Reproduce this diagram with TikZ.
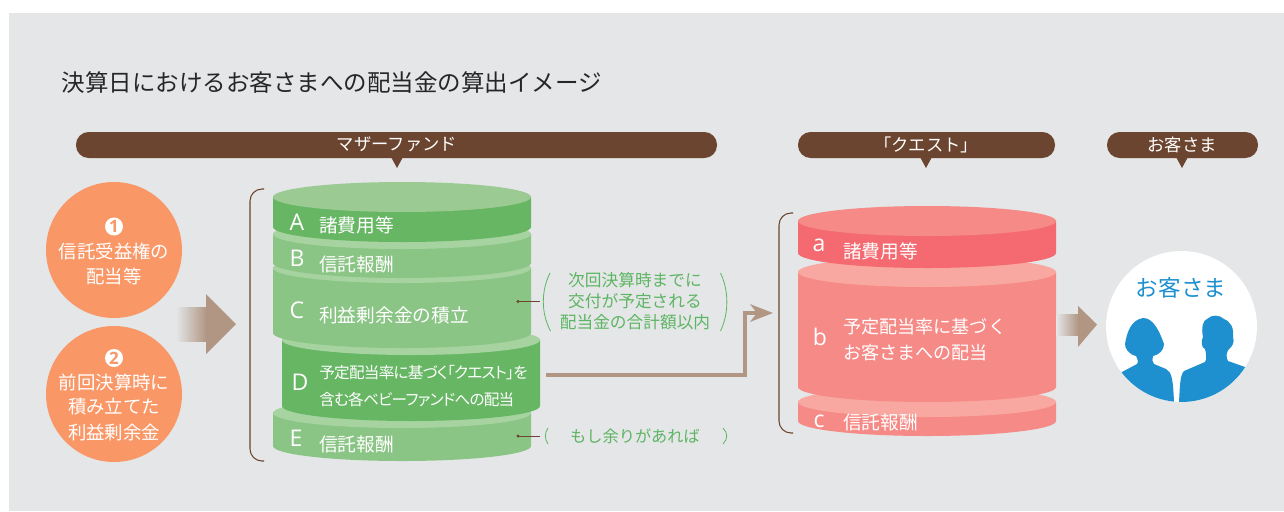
\documentclass[tikz,border=0pt]{standalone}
\usepackage{fontspec}
\setmainfont{Open Sans}
\newfontfamily\jp{Noto Sans CJK JP}
\newfontfamily\jpp[RawFeature=+palt,LetterSpace=-4.7]{Noto Sans CJK JP}
\usetikzlibrary{arrows.meta}
\definecolor{bg}{HTML}{E4E6E8}
\definecolor{barbrown}{HTML}{6B452F}
\definecolor{arrowbrown}{HTML}{B09683}
\definecolor{gdark}{HTML}{66B664}
\definecolor{gmid}{HTML}{8AC585}
\definecolor{glight}{HTML}{A6D3A0}
\definecolor{gtop}{HTML}{9BCB92}
\definecolor{gtext}{HTML}{5DB562}
\definecolor{rdark}{HTML}{F46A70}
\definecolor{rmid}{HTML}{F58A86}
\definecolor{rlight}{HTML}{F8A8A0}
\definecolor{orangec}{HTML}{F99767}
\definecolor{bluep}{HTML}{1E90D0}
\newcommand{\fs}[1]{\fontsize{\dimexpr#1pt*3/4\relax}{\dimexpr#1pt*9/10\relax}\selectfont}
% x0 x1 top-centre bottom-centre body-colour top-colour
\newcommand{\cyl}[6]{%
  \path[fill=#5] (#1,#3) -- (#1,#4) arc[start angle=180,end angle=360,x radius=96.75pt,y radius=11.25pt] -- (#2,#3) -- cycle;
  \path[fill=#6] ({(#1+#2)/2},#3) ellipse[x radius=96.75pt,y radius=11.25pt];
}
\tikzset{
  bar/.style={fill=barbrown,rounded corners=9.5pt},
  jt/.style={inner sep=0pt,anchor=west,text=white,font=\jp\fs{18.7}},
  cj/.style={inner sep=0pt,anchor=center,text=white,align=center,font=\jp\fs{18.4}},
  let/.style={inner sep=0pt,anchor=center,text=white,font=\fs{23}},
  gt/.style={inner sep=0pt,anchor=center,text=gtext,font=\jp\fs{16.7}},
  bart/.style={inner sep=0pt,anchor=center,text=white,font=\jp\fs{17.3}},
  brace/.style={draw=barbrown,line width=0.8pt,rounded corners=9pt},
  lead/.style={draw=barbrown,line width=0.7pt},
  paren/.style={draw=gtext,line width=0.6pt},
  numc/.style={circle,fill=white,minimum size=13.5pt,inner sep=0pt,outer sep=0pt,text=orangec,font=\fs{17}\bfseries},
  flow/.style={draw=arrowbrown,line width=3pt},
}
\begin{document}
\begin{tikzpicture}[x=0.75pt,y=-0.75pt]
\useasboundingbox (0,0) rectangle (1284,511);
\fill[white] (0,0) rectangle (1284,511);
\fill[bg] (9,13) rectangle (1284,511);
% title
\node[inner sep=0pt,anchor=west,font=\jp\fs{23.5},text=black!85] (title) at (61.5,83) {決算日におけるお客さまへの配当金の算出イメージ};
% header bars
\fill[bar] (76,132) rectangle (717,158);
\fill[barbrown] (391,157) -- (403,157) -- (397,168) -- cycle;
\node[bart] (h1) at (397,144.5) {マザーファンド};
\fill[bar] (798,132) rectangle (1055,158);
\fill[barbrown] (920,157) -- (932,157) -- (926,168) -- cycle;
\node[bart] (h2) at (926,144.5) {「クエスト」};
\fill[bar] (1107,132) rectangle (1258,158);
\fill[barbrown] (1176,157) -- (1188,157) -- (1182,168) -- cycle;
\node[bart] (h3) at (1182,144.5) {お客さま};
% source circles
\fill[orangec] (114,250) circle[radius=51pt];
\fill[orangec] (114,394) circle[radius=51pt];
\node[numc] (n1) at (114,226.5) {1};
\node[cj] (c1a) at (114,251) {信託受益権の};
\node[cj] (c1b) at (114,276) {配当等};
\node[numc] (n2) at (114,358) {2};
\node[cj] (c2a) at (114,382) {前回決算時に};
\node[cj] (c2b) at (114,407) {積み立てた};
\node[cj] (c2c) at (114,432) {利益剰余金};
% block arrow 1
\path[left color=bg,right color=arrowbrown] (176,307) rectangle (206.5,341);
\fill[arrowbrown] (206,294) -- (236,324) -- (206,354) -- cycle;
% green stack
\draw[brace] (264,189) -- (250,189) -- (250,461) -- (264,461);
\cyl{273}{531}{413}{446}{gmid}{glight}
\cyl{282}{540}{340}{406}{gdark}{glight}
\cyl{273}{531}{268}{333}{gmid}{glight}
\cyl{273}{531}{234}{263}{gmid}{glight}
\cyl{273}{531}{197}{227}{gdark}{gtop}
\node[let] (lA) at (297,222) {A};
\node[jt] (tA) at (319,225) {諸費用等};
\node[let] (lB) at (297,258) {B};
\node[jt] (tB) at (319,264) {信託報酬};
\node[let] (lC) at (297,310) {C};
\node[jt] (tC) at (319,315) {利益剰余金の積立};
\node[let] (lD) at (300,382) {D};
\node[jt,font=\jpp\fs{15.6}] (tD1) at (319,373) {予定配当率に基づく「クエスト」を};
\node[jt,font=\jpp\fs{15.6}] (tD2) at (319,400) {含む各ベビーファンドへの配当};
\node[let] (lE) at (296,438) {E};
\node[jt] (tE) at (319,444) {信託報酬};
% leaders and notes
\coordinate (ld1) at (518,301.5);
\coordinate (le1) at (540,301.5);
\coordinate (ld2) at (518,436);
\coordinate (le2) at (540,436);
\draw[lead] (ld1) -- (le1);
\fill[barbrown] (ld1) circle[radius=1.3pt];
\draw[lead] (ld2) -- (le2);
\fill[barbrown] (ld2) circle[radius=1.3pt];
\draw[paren] (550,273) .. controls (541,291) and (541,313) .. (550.5,331);
\draw[paren] (720.5,273) .. controls (729,291) and (729,313) .. (720.5,331);
\draw[paren] (548,428) .. controls (544.5,433) and (544.5,439) .. (548,444);
\draw[paren] (723,428) .. controls (728,433) and (728,439) .. (723,444);
\node[gt] (g1) at (635,280) {次回決算時までに};
\node[gt] (g2) at (635,301) {交付が予定される};
\node[gt] (g3) at (635,322) {配当金の合計額以内};
\node[gt,font=\jp\fs{16.2}] (g4) at (635,436) {もし余りがあれば};
% connector from D to the Quest stack
\coordinate (dout) at (546,375);
\coordinate (qin) at (773,313);
\draw[flow,-{Stealth[length=17pt,width=13pt,inset=5pt]}] (dout) -- (745,375) -- (745,313) -- (qin);
% red stack
\draw[brace] (793,213) -- (779,213) -- (779,433) -- (793,433);
\cyl{798}{1056}{402}{421}{rmid}{rlight}
\cyl{798}{1056}{272}{387}{rmid}{rlight}
\cyl{798}{1056}{221}{253}{rdark}{rmid}
\node[let] (la) at (819,245) {a};
\node[jt] (ta) at (843,251) {諸費用等};
\node[let] (lb) at (820,337) {b};
\node[jt,font=\jp\fs{18.1}] (tb1) at (843,327) {予定配当率に基づく};
\node[jt,font=\jp\fs{18.1}] (tb2) at (843,353) {お客さまへの配当};
\node[let] (lc) at (819,421) {c};
\node[jt] (tc) at (843,422) {信託報酬};
% block arrow 2
\path[left color=bg,right color=arrowbrown] (1056,314) rectangle (1078.5,335);
\fill[arrowbrown] (1078,306) -- (1097,324.5) -- (1078,347) -- cycle;
% customer
\fill[white] (1181.5,326.5) circle[radius=56.6pt];
\node[inner sep=0pt,anchor=center,text=bluep,font=\jp\fs{22.6}] (cust) at (1181,288) {お客さま};
\begin{scope}
\clip (1181.5,326.5) circle[radius=56.6pt];
\fill[bluep] (1122,372) -- (1137,364) .. controls (1139,362) and (1137,358) .. (1136,356)
  .. controls (1128,354) and (1125,348) .. (1125,344)
  .. controls (1127,332) and (1131,320) .. (1143,318)
  .. controls (1153,318) and (1159,330) .. (1164,344)
  .. controls (1164,350) and (1159,355) .. (1153,356)
  .. controls (1152,359) and (1152,362) .. (1154,364)
  -- (1166,369) .. controls (1172,372) and (1173,380) .. (1174,402) -- (1100,402) -- cycle;
\fill[bluep] (1179,402) .. controls (1180,385) and (1180,375) .. (1184,371)
  -- (1205,362) .. controls (1207,360) and (1206,352) .. (1205,349)
  .. controls (1201,348) and (1201,340) .. (1203,337)
  .. controls (1201,328) and (1203,320) .. (1207,319)
  .. controls (1212,314) and (1220,315) .. (1224,319)
  .. controls (1231,322) and (1234,328) .. (1233,337)
  .. controls (1235,342) and (1232,347) .. (1229,349)
  .. controls (1226,352) and (1226,358) .. (1228,361)
  -- (1245,367) -- (1260,402) -- cycle;
\end{scope}
\end{tikzpicture}
\end{document}
